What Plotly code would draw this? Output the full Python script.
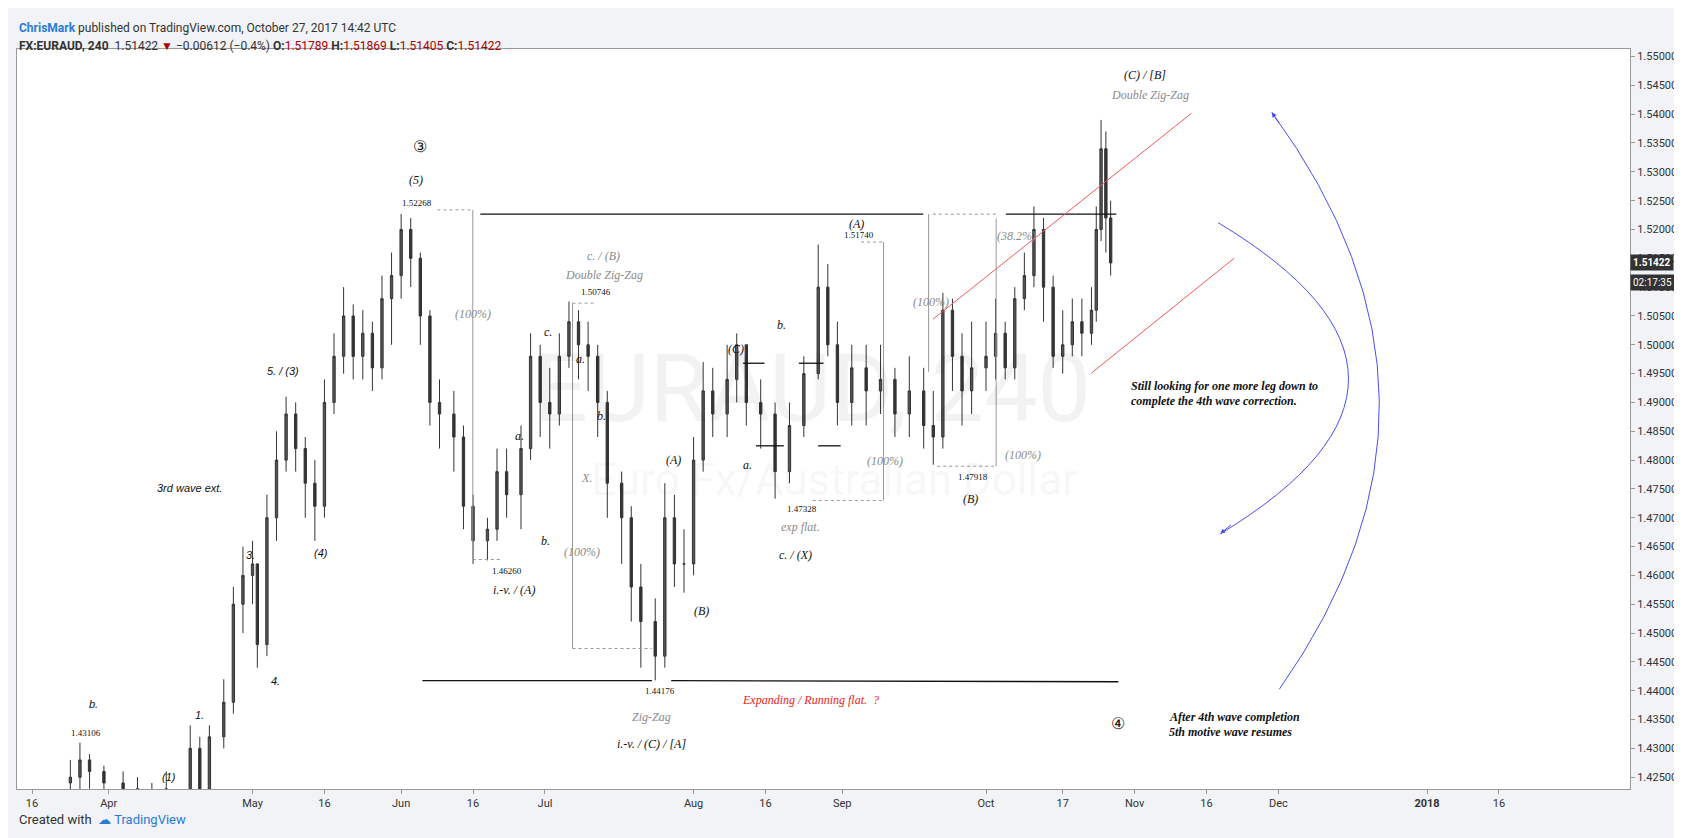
import plotly.graph_objects as go
import pandas as pd

dates = ["2017-03-24","2017-03-26","2017-03-28","2017-03-31","2017-04-04","2017-04-07","2017-04-10","2017-04-13","2017-04-18","2017-04-20","2017-04-22","2017-04-25","2017-04-27","2017-04-29",
 "2017-05-01","2017-05-02","2017-05-04","2017-05-06","2017-05-08","2017-05-10","2017-05-12","2017-05-14","2017-05-16","2017-05-18","2017-05-20","2017-05-22","2017-05-24","2017-05-26","2017-05-28",
 "2017-05-30","2017-06-01","2017-06-03","2017-06-05","2017-06-07","2017-06-09","2017-06-12","2017-06-14","2017-06-16","2017-06-19","2017-06-21","2017-06-23","2017-06-26","2017-06-28",
 "2017-06-30","2017-07-02","2017-07-04","2017-07-06","2017-07-08","2017-07-10","2017-07-12","2017-07-14","2017-07-17","2017-07-19","2017-07-21","2017-07-24","2017-07-26","2017-07-28","2017-07-30",
 "2017-08-01","2017-08-03","2017-08-05","2017-08-08","2017-08-10","2017-08-12","2017-08-15","2017-08-18","2017-08-21","2017-08-24","2017-08-27","2017-08-29","2017-08-31","2017-09-03",
 "2017-09-06","2017-09-09","2017-09-12","2017-09-15","2017-09-18","2017-09-20","2017-09-22","2017-09-24","2017-09-26","2017-09-28","2017-10-01","2017-10-03",
 "2017-10-05","2017-10-07","2017-10-09","2017-10-11","2017-10-13","2017-10-15","2017-10-17","2017-10-19","2017-10-21","2017-10-23","2017-10-24","2017-10-25","2017-10-26","2017-10-27"]
closes = [1.425,1.428,1.426,1.424,1.423,1.422,1.420,1.423,1.430,1.422,1.432,1.438,1.455,1.460,
 1.462,1.448,1.470,1.480,1.488,1.482,1.476,1.472,1.490,1.498,1.505,1.498,1.502,1.496,1.508,
 1.512,1.520,1.515,1.505,1.490,1.488,1.484,1.472,1.466,1.468,1.478,1.474,1.482,1.498,
 1.490,1.488,1.498,1.504,1.500,1.498,1.490,1.476,1.470,1.458,1.452,1.446,1.470,1.462,1.462,
 1.480,1.492,1.488,1.494,1.500,1.490,1.488,1.478,1.486,1.495,1.510,1.500,1.490,1.496,
 1.492,1.494,1.488,1.492,1.486,1.484,1.506,1.498,1.492,1.496,1.498,1.502,
 1.496,1.508,1.512,1.520,1.510,1.498,1.500,1.504,1.502,1.506,1.520,1.534,1.522,1.5142]
highs = [1.428,1.431,1.429,1.427,1.426,1.425,1.424,1.426,1.434,1.432,1.434,1.442,1.458,1.465,
 1.466,1.462,1.474,1.485,1.491,1.490,1.484,1.480,1.494,1.502,1.510,1.507,1.506,1.504,1.512,
 1.516,1.5227,1.522,1.516,1.506,1.494,1.492,1.486,1.474,1.470,1.482,1.482,1.486,1.502,
 1.500,1.496,1.502,1.5075,1.506,1.504,1.500,1.492,1.478,1.472,1.462,1.456,1.476,1.474,1.468,
 1.484,1.497,1.496,1.500,1.502,1.500,1.494,1.490,1.490,1.498,1.5174,1.514,1.504,1.500,
 1.500,1.500,1.496,1.498,1.496,1.492,1.509,1.508,1.502,1.504,1.504,1.508,
 1.504,1.510,1.516,1.524,1.522,1.512,1.506,1.508,1.508,1.510,1.524,1.539,1.537,1.525]
lows = [1.420,1.422,1.423,1.420,1.420,1.418,1.416,1.418,1.421,1.418,1.420,1.430,1.436,1.450,
 1.455,1.444,1.446,1.466,1.478,1.478,1.470,1.466,1.470,1.488,1.495,1.494,1.494,1.492,1.494,
 1.500,1.508,1.510,1.500,1.486,1.482,1.478,1.468,1.462,1.4626,1.466,1.470,1.468,1.480,
 1.484,1.482,1.486,1.496,1.494,1.492,1.484,1.470,1.462,1.452,1.444,1.4418,1.444,1.458,1.457,
 1.460,1.478,1.484,1.484,1.490,1.486,1.482,1.4733,1.476,1.484,1.494,1.498,1.486,1.486,
 1.486,1.488,1.484,1.484,1.482,1.4792,1.482,1.492,1.486,1.488,1.492,1.494,
 1.494,1.494,1.506,1.510,1.504,1.496,1.495,1.498,1.498,1.500,1.504,1.518,1.516,1.512]
opens = [1.424] + closes[:-1]

tick_dates = ["2017-03-16","2017-04-01","2017-05-01","2017-05-16","2017-06-01","2017-06-16","2017-07-01","2017-08-01","2017-08-16","2017-09-01","2017-10-01","2017-10-17","2017-11-01","2017-11-16","2017-12-01","2018-01-01","2018-01-16"]
tick_labels = ["16","Apr","May","16","Jun","16","Jul","Aug","16","Sep","Oct","17","Nov","16","Dec","<b>2018</b>","16"]

# picture-position helpers (reference pixel grid)
base = pd.Timestamp("2017-03-16")
def D(x): return base + pd.Timedelta(days=(x - 22) / 4.47)
def P(y): return 1.55 - (y - 45) / 5376.0
def PX(x): return (x - 8) / 1504.0
def PY(y): return (728 - y) / 690.0

fig = go.Figure(go.Candlestick(
    x=dates, open=opens, high=highs, low=lows, close=closes,
    increasing=dict(line=dict(color="#333", width=1), fillcolor="#555"),
    decreasing=dict(line=dict(color="#333", width=1), fillcolor="#333"),
    whiskerwidth=0, showlegend=False, hoverinfo="skip"))

shapes = []
def line(x0, y0, x1, y1, color="#111", width=1.3, dash="solid"):
    shapes.append(dict(type="line", x0=D(x0), y0=P(y0), x1=D(x1), y1=P(y1),
                       line=dict(color=color, width=width, dash=dash)))

line(440, 192, 853, 192)
line(930, 192, 1033, 192)
line(386, 627, 600, 627)
line(618, 627, 1035, 628)
for a, b, y in [(685, 705, 331), (697, 723, 408), (737, 760, 331), (755, 776, 408)]:
    line(a, y, b, y)
g = "#999"
line(433, 188, 433, 512, g, 1); line(400, 188, 433, 188, g, 1, "dot"); line(433, 514, 460, 514, g, 1, "dot")
line(526, 275, 526, 597, g, 1); line(526, 275, 548, 275, g, 1, "dot"); line(526, 597, 600, 597, g, 1, "dot")
line(816, 218, 816, 459, g, 1); line(750, 459, 816, 459, g, 1, "dot"); line(795, 218, 816, 218, g, 1, "dot")
line(858, 192, 858, 339, g, 1); line(862, 192, 922, 192, g, 1, "dot")
line(921, 196, 921, 427, g, 1); line(866, 427, 921, 427, g, 1, "dot")
line(862, 290, 1103, 98, "#f05a5a", 1)
line(1010, 340, 1143, 233, "#f05a5a", 1)

shapes.append(dict(type="path", xref="paper", yref="paper",
    path=f"M {PX(1128)},{PY(200)} Q {PX(1370)},{PY(345)} {PX(1130)},{PY(490)}",
    line=dict(color="#4a4ef0", width=1)))
shapes.append(dict(type="path", xref="paper", yref="paper",
    path=f"M {PX(1185)},{PY(635)} Q {PX(1375)},{PY(366)} {PX(1178)},{PY(97)}",
    line=dict(color="#4a4ef0", width=1)))

ann = []
def T(x, y, text, color="#111", size=12, it=True, xa="center", font="Liberation Serif"):
    ann.append(dict(x=D(x), y=P(y), text=(f"<i>{text}</i>" if it else text), showarrow=False,
                    xanchor=xa, font=dict(color=color, size=size, family=font)))
def S(x, y, text):
    T(x, y, text, "#111", 9, False, font="Liberation Serif")

gr = "#8a8a8a"
T(384, 129, "③", size=16, it=False); T(380, 160, "(5)"); S(381, 182, "1.52268")
T(256, 338, "5. / (3)", font="Liberation Sans", size=11); T(169, 447, "3rd wave ext.", font="Liberation Sans", size=11)
T(226, 510, "3.", font="Liberation Sans", size=11); T(291, 508, "(4)", font="Liberation Sans", size=11)
T(249, 627, "4.", font="Liberation Sans", size=11); T(178, 659, "1.", font="Liberation Sans", size=11)
T(150, 717, "(1)", font="Liberation Sans", size=11); T(79, 649, "b.", font="Liberation Sans", size=11); S(72, 676, "1.43106")
T(433, 285, "(100%)", gr); T(477, 399, "a."); T(501, 497, "b."); T(503, 302, "c.")
S(465, 525, "1.46260"); T(471, 542, "i.-v. / (A)")
T(555, 231, "c. / (B)", gr); T(555, 249, "Double Zig-Zag", gr); S(548, 265, "1.50746")
T(533, 327, "a."); T(553, 380, "b."); T(539, 438, "X.", gr); T(535, 507, "(100%)", gr)
T(620, 421, "(A)"); T(646, 562, "(B)"); S(608, 637, "1.44176")
T(600, 661, "Zig-Zag", gr); T(600, 686, "i.-v. / (C) / [A]")
T(748, 645, "Expanding / Running flat.  ?", "#f02020")
T(678, 318, "(C)"); T(721, 295, "b."); T(689, 426, "a."); S(740, 467, "1.47328")
T(739, 484, "exp flat.", gr); T(734, 510, "c. / (X)")
T(791, 201, "(A)"); S(793, 211, "1.51740"); T(817, 422, "(100%)", gr); T(860, 274, "(100%)", gr)
T(940, 212, "(38.2%)", gr); T(946, 417, "(100%)", gr); S(899, 437, "1.47918"); T(897, 458, "(B)")
T(1060, 62, "(C) / [B]"); T(1064, 81, "Double Zig-Zag", gr)
T(1045, 352, "<b>Still looking for one more leg down to</b>", xa="left")
T(1045, 366, "<b>complete the 4th wave correction.</b>", xa="left")
T(1035, 667, "④", size=16, it=False)
T(1080, 661, "<b>After 4th wave completion</b>", xa="left")
T(1080, 675, "<b>5th motive wave resumes</b>", xa="left")
T(750, 355, "EURAUD, 240", "rgba(0,0,0,0.05)", 95, False, font="Roboto")
T(770, 440, "Euro Fx/Australian Dollar", "rgba(0,0,0,0.05)", 44, False, font="Roboto")

ann.append(dict(x=PX(1130), y=PY(490), xref="paper", yref="paper", ax=12, ay=-10, text="",
                showarrow=True, arrowhead=2, arrowcolor="#4a4ef0", arrowwidth=1))
ann.append(dict(x=PX(1178), y=PY(97), xref="paper", yref="paper", ax=8, ay=12, text="",
                showarrow=True, arrowhead=2, arrowcolor="#4a4ef0", arrowwidth=1))

ann.append(dict(x=0, y=PY(10), xref="paper", yref="paper", xanchor="left", showarrow=False,
    text="<b><span style='color:#2a7bd8'>ChrisMark</span></b> published on TradingView.com, October 27, 2017 14:42 UTC",
    font=dict(family="Roboto", size=12, color="#333")))
ann.append(dict(x=0, y=PY(27), xref="paper", yref="paper", xanchor="left", showarrow=False,
    text="<b>FX:EURAUD, 240</b>  1.51422 <span style='color:#a00'>▼</span> −0.00612 (−0.4%) <b>O:</b><span style='color:#a00'>1.51789</span> <b>H:</b><span style='color:#a00'>1.51869</span> <b>L:</b><span style='color:#a00'>1.51405</span> <b>C:</b><span style='color:#a00'>1.51422</span>",
    font=dict(family="Roboto", size=12, color="#333")))
ann.append(dict(x=0, y=PY(765), xref="paper", yref="paper", xanchor="left", showarrow=False,
    text="Created with  <span style='color:#2a7bd8'>☁ TradingView</span>", font=dict(family="Roboto", size=13, color="#333")))
ann.append(dict(x=1.0, y=1.51422, xref="paper", yref="y", xanchor="left", showarrow=False,
    text="<b>1.51422</b>", bgcolor="#333", borderpad=2, font=dict(color="white", size=10, family="Roboto")))
ann.append(dict(x=1.0, y=P(256), xref="paper", yref="y", xanchor="left", showarrow=False,
    text="02:17:35", bgcolor="#333", borderpad=2, font=dict(color="white", size=10, family="Roboto")))

fig.update_layout(
    width=1682, height=838, paper_bgcolor="#f1f3f6", plot_bgcolor="white",
    margin=dict(l=9, r=60, t=41, b=57), shapes=shapes, annotations=ann,
    xaxis=dict(range=[D(8), D(1512)], tickvals=tick_dates, ticktext=tick_labels, showgrid=False,
               rangeslider=dict(visible=False), showline=True, linecolor="#999", mirror=True,
               ticks="outside", tickcolor="#999", ticklen=4, tickfont=dict(family="Roboto", size=11, color="#333")),
    yaxis=dict(side="right", range=[P(728), P(38)], dtick=0.005, tick0=1.4, tickformat=".5f", showgrid=False,
               showline=True, linecolor="#999", mirror=True, ticks="outside", tickcolor="#999", ticklen=4,
               tickfont=dict(family="Roboto", size=11, color="#333")),
)
fig.write_html("out.html")
